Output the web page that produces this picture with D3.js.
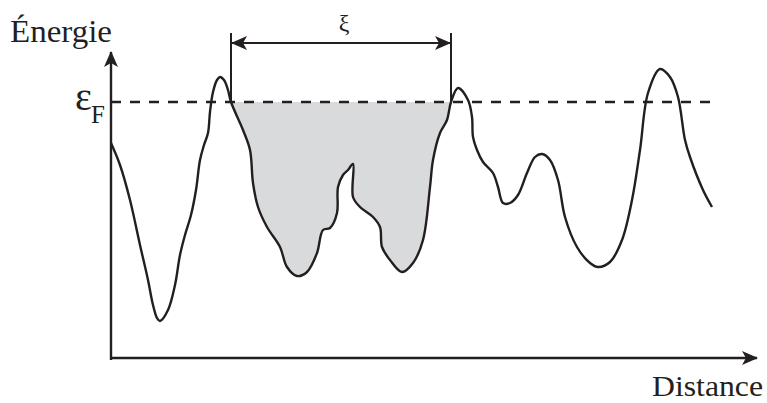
<!DOCTYPE html>
<html>
<head>
<meta charset="utf-8">
<script src="https://cdn.jsdelivr.net/npm/d3@7"></script>
<style>
  html, body { margin: 0; padding: 0; background: #fff; }
  svg { display: block; }
</style>
</head>
<body>
<svg id="chart" width="767" height="403"></svg>
<script>
// ---- Data (abstract units: distance from origin, energy above origin) ----
const distance = [0, 9, 19, 29, 37, 42, 46, 49, 57, 64, 69, 74, 80, 85, 89, 93, 97, 99, 102, 106,
  109, 113, 117, 120, 132, 139, 142, 147, 156, 169, 176, 186, 196, 206, 212, 219, 226, 227, 232, 237,
  242, 242, 249, 262, 269, 271, 279, 291, 302, 312, 319, 322, 329, 336, 340, 347, 357, 361, 362, 366,
  372, 382, 387, 392, 399, 407, 416, 424, 431, 439, 447, 454, 466, 479, 487, 499, 511, 521, 529, 537,
  549, 559, 567, 574, 579, 592, 601];
const energy = [215, 193, 158, 113, 78, 53, 40, 37, 48, 73, 103, 123, 143, 168, 198, 213, 225, 246, 266, 278,
  281, 278, 268, 256, 228, 208, 175, 151, 131, 111, 91, 82, 86, 105, 128, 130, 145, 171, 183, 188,
  194, 161, 151, 141, 131, 111, 98, 86, 95, 118, 171, 198, 225, 238, 256, 270, 258, 241, 221, 208,
  196, 185, 171, 155, 155, 163, 185, 201, 204, 198, 178, 141, 111, 95, 91, 96, 118, 158, 208, 265,
  289, 281, 261, 218, 201, 168, 151];
const fermiLevel = 256;          // ε_F
const xiStart = 120, xiEnd = 340; // distance of the two crossings bounding ξ
const axisMax = { distance: 646, energy: 306 };
const labels = { y: "Énergie", x: "Distance", fermi: "ε", fermiSub: "F", xi: "ξ" };

const points = distance.map((d, i) => ({ d, e: energy[i] }));

// ---- Layout ----
const svg = d3.select("#chart");
const serif = "'Liberation Serif', 'Times New Roman', Times, serif";
const origin = { x: 111, y: 358 };
const x = d3.scaleLinear().domain([0, axisMax.distance]).range([origin.x, origin.x + 646]);
const y = d3.scaleLinear().domain([0, axisMax.energy]).range([origin.y, origin.y - 306]);
const ink = "#231f20";

// arrow markers
const defs = svg.append("defs");
defs.append("marker").attr("id", "axArrow")
  .attr("viewBox", "0 0 16 14").attr("refX", 15).attr("refY", 7)
  .attr("markerWidth", 16).attr("markerHeight", 14).attr("markerUnits", "userSpaceOnUse")
  .attr("orient", "auto")
  .append("path").attr("d", "M0,0 L16,7 L0,14 L4,7 Z").attr("fill", ink);
defs.append("marker").attr("id", "xiArrow")
  .attr("viewBox", "0 0 16 14").attr("refX", 15).attr("refY", 7)
  .attr("markerWidth", 16).attr("markerHeight", 14).attr("markerUnits", "userSpaceOnUse")
  .attr("orient", "auto-start-reverse")
  .append("path").attr("d", "M0,0 L16,7 L0,14 L4,7 Z").attr("fill", ink);

const curve = d3.curveCatmullRom.alpha(0.5);

// shaded region between crossings
const inside = points.filter(p => p.d >= xiStart && p.d <= xiEnd);
const area = d3.area().x(p => x(p.d)).y0(y(fermiLevel)).y1(p => y(p.e)).curve(curve);
svg.append("path").datum(inside).attr("d", area).attr("fill", "#d9dadc").attr("stroke", "none");

// axes
svg.append("line").attr("x1", x(0)).attr("x2", x(0)).attr("y1", y(0) + 2).attr("y2", y(axisMax.energy))
  .attr("stroke", ink).attr("stroke-width", 2.4).attr("marker-end", "url(#axArrow)");
svg.append("line").attr("x1", x(0) - 1).attr("x2", x(axisMax.distance)).attr("y1", y(0)).attr("y2", y(0))
  .attr("stroke", ink).attr("stroke-width", 2.4).attr("marker-end", "url(#axArrow)");

// fermi level dashed
svg.append("line").attr("x1", x(0)).attr("x2", x(602)).attr("y1", y(fermiLevel)).attr("y2", y(fermiLevel))
  .attr("stroke", ink).attr("stroke-width", 2.4).attr("stroke-dasharray", "10,9");

// energy curve
const line = d3.line().x(p => x(p.d)).y(p => y(p.e)).curve(curve);
svg.append("path").datum(points).attr("d", line).attr("fill", "none")
  .attr("stroke", ink).attr("stroke-width", 2.4).attr("stroke-linejoin", "round");

// ξ dimension
const xiTop = 33, xiArrowY = 43;
[xiStart, xiEnd].forEach(d => {
  svg.append("line").attr("x1", x(d)).attr("x2", x(d)).attr("y1", xiTop).attr("y2", y(fermiLevel))
    .attr("stroke", ink).attr("stroke-width", 2);
});
svg.append("line").attr("x1", x(xiStart) + 1).attr("x2", x(xiEnd) - 1).attr("y1", xiArrowY).attr("y2", xiArrowY)
  .attr("stroke", ink).attr("stroke-width", 2)
  .attr("marker-start", "url(#xiArrow)").attr("marker-end", "url(#xiArrow)");
svg.append("text").attr("x", (x(xiStart) + x(xiEnd)) / 2 + 3).attr("y", 31)
  .attr("font-family", serif).attr("fill", ink)
  .attr("text-anchor", "middle").attr("font-size", 24).text(labels.xi);

// labels
svg.append("text").attr("x", 10).attr("y", 42).attr("font-size", 32)
  .attr("font-family", serif).attr("fill", ink)
  .attr("textLength", 102).attr("lengthAdjust", "spacingAndGlyphs").text(labels.y);
svg.append("text").attr("x", 652).attr("y", 396).attr("font-size", 30)
  .attr("font-family", serif).attr("fill", ink)
  .attr("textLength", 111).attr("lengthAdjust", "spacingAndGlyphs").text(labels.x);
const ef = svg.append("text").attr("x", 75).attr("y", 110).attr("font-size", 40)
  .attr("font-family", serif).attr("fill", ink);
ef.append("tspan").text(labels.fermi);
ef.append("tspan").attr("x", 91).attr("y", 123).attr("font-size", 25).text(labels.fermiSub);
</script>
</body>
</html>
